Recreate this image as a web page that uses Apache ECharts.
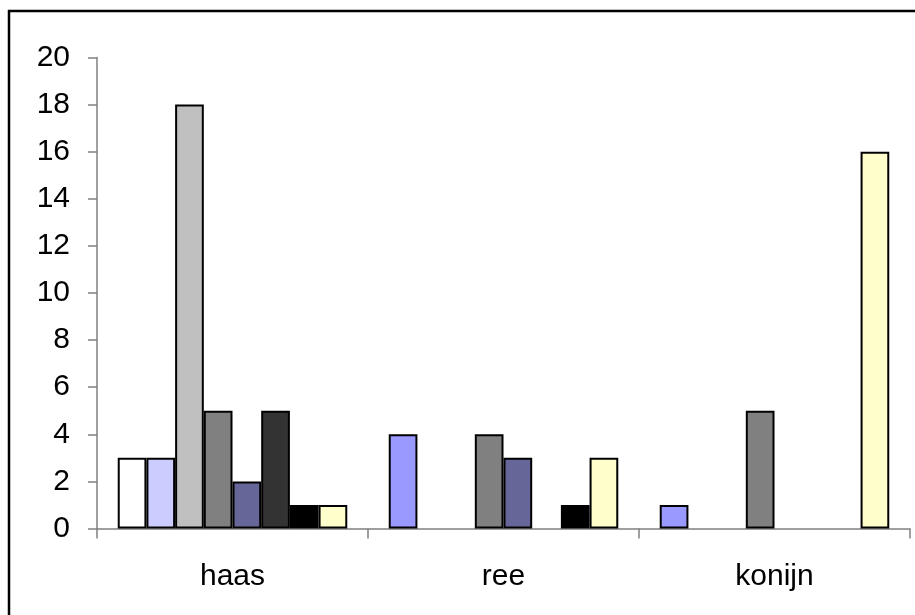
<!DOCTYPE html>
<html>
<head>
<meta charset="utf-8">
<script src="https://cdn.jsdelivr.net/npm/echarts@6/dist/echarts.min.js"></script>
<style>
html,body{margin:0;padding:0;background:#fff;}
#chart{width:915px;height:615px;}
</style>
</head>
<body>
<div id="chart"></div>
<script>
var categories = ['haas', 'ree', 'konijn'];
var yTicks = [0, 2, 4, 6, 8, 10, 12, 14, 16, 18, 20];
var seriesNames = ['reeks 1', 'reeks 2', 'reeks 3', 'reeks 4', 'reeks 5', 'reeks 6', 'reeks 7', 'reeks 8'];
var s1 = [3, 4, 1];
var s2 = [3, null, null];
var s3 = [18, null, null];
var s4 = [5, 4, 5];
var s5 = [2, 3, null];
var s6 = [5, null, null];
var s7 = [1, 1, null];
var s8 = [1, 3, 16];
var seriesColors = ['#9999FF', '#CCCCFF', '#C0C0C0', '#808080', '#666699', '#333333', '#000000', '#FFFFCC'];
var haasFirstColor = '#FFFFFF';

var allValues = [s1, s2, s3, s4, s5, s6, s7, s8];

var chart = echarts.init(document.getElementById('chart'), null, {renderer: 'canvas'});
var series = allValues.map(function (vals, i) {
  return {
    name: seriesNames[i],
    type: 'bar',
    barGap: '0%',
    barCategoryGap: '15.3%',
    itemStyle: {color: seriesColors[i], borderColor: '#000', borderWidth: 2},
    data: vals.map(function (v, j) {
      if (i === 0 && j === 0) {
        return {value: v, itemStyle: {color: haasFirstColor}};
      }
      return v;
    }),
    emphasis: {disabled: true},
    animation: false
  };
});

chart.setOption({
  animation: false,
  backgroundColor: '#fff',
  grid: {left: 97, right: 5, top: 57.5, bottom: 86.5, containLabel: false},
  xAxis: {
    type: 'category',
    data: categories,
    axisLine: {lineStyle: {color: '#808080', width: 1.5}},
    axisTick: {show: true, alignWithLabel: false, length: 10, lineStyle: {color: '#808080', width: 1.5}},
    axisLabel: {color: '#000', fontFamily: 'Liberation Sans, Arial, sans-serif', fontSize: 30, margin: 33}
  },
  yAxis: {
    type: 'value',
    min: yTicks[0],
    max: yTicks[yTicks.length - 1],
    interval: yTicks[1] - yTicks[0],
    splitLine: {show: false},
    axisLine: {show: true, lineStyle: {color: '#808080', width: 1.5}},
    axisTick: {show: true, length: 9, lineStyle: {color: '#808080', width: 1.5}},
    axisLabel: {color: '#000', fontFamily: 'Liberation Sans, Arial, sans-serif', fontSize: 30, margin: 27}
  },
  graphic: [
    {type: 'line', shape: {x1: 8, y1: 11, x2: 915, y2: 11}, style: {stroke: '#000', lineWidth: 2.5}, silent: true},
    {type: 'line', shape: {x1: 9, y1: 10, x2: 9, y2: 615}, style: {stroke: '#000', lineWidth: 2.5}, silent: true}
  ],
  series: series
});
</script>
</body>
</html>
